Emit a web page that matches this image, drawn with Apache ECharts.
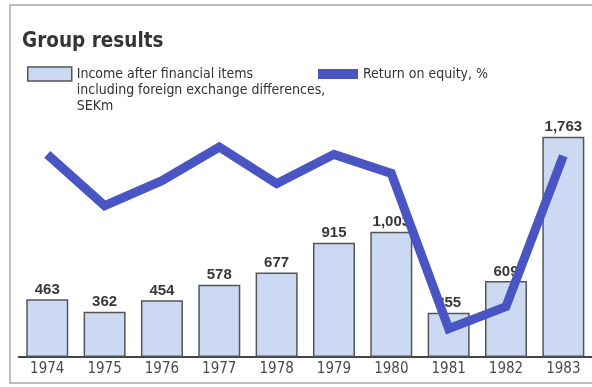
<!DOCTYPE html>
<html>
<head>
<meta charset="utf-8">
<script src="https://cdn.jsdelivr.net/npm/echarts@6/dist/echarts.min.js"></script>
<style>
  html, body { margin: 0; padding: 0; background: #ffffff; }
  #chart { width: 592px; height: 387px; }
</style>
</head>
<body>
<div id="chart"></div>
<script>
// Group results 1974-1983
const years = ['1974', '1975', '1976', '1977', '1978', '1979', '1980', '1981', '1982', '1983'];
// Income after financial items incl. foreign exchange differences, SEKm
const income = [463, 362, 454, 578, 677, 915, 1003, 355, 609, 1763];
// Return on equity, %
const roe = [16.6, 13.1, 14.8, 17.1, 14.6, 16.6, 15.3, 4.7, 6.2, 16.5];

const incomeName = 'Income after financial items\nincluding foreign exchange differences,\nSEKm';
const roeName = 'Return on equity, %';

// where each return-on-equity label sits relative to its point
const roeLabelPlacement = [
  { position: 'top', distance: 6, offset: [-5, 0] },
  { position: 'bottom', distance: 2, offset: [-17, 0] },
  { position: 'bottom', distance: 3, offset: [0, 0] },
  { position: 'top', distance: 3, offset: [-15, 0] },
  { position: 'bottom', distance: 4, offset: [-7, 0] },
  { position: 'top', distance: 3, offset: [0, 0] },
  { position: 'right', distance: 11, offset: [0, 0] },
  { position: 'bottom', distance: 11, offset: [1, 0] },
  { position: 'bottom', distance: 10, offset: [4, 0] },
  { position: 'top', distance: 0, offset: [1, 0] }
];

const COND = "'DejaVu Sans Condensed', 'Liberation Sans', sans-serif";
const NUM = "'Liberation Sans', Arial, sans-serif";
const TEXT = '#383838';
const BAR_FILL = '#cbdaf2';
const BAR_EDGE = '#555555';
const LINE_BLUE = '#4a55c4';

const chart = echarts.init(document.getElementById('chart'), null, { renderer: 'canvas' });

chart.setOption({
  animation: false,
  backgroundColor: '#ffffff',
  title: {
    text: 'Group results',
    left: 22,
    top: 31,
    padding: 0,
    textStyle: { fontFamily: COND, fontSize: 20.5, fontWeight: 'bold', color: '#353535' }
  },
  legend: [
    {
      data: [{ name: incomeName, icon: 'rect', itemStyle: { color: BAR_FILL, borderColor: BAR_EDGE, borderWidth: 1.5 } }],
      left: 27,
      top: 34,
      padding: 0,
      itemWidth: 44,
      itemHeight: 14,
      itemGap: 0,
      selectedMode: false,
      // two blank lines above keep the first text line level with the swatch
      formatter: name => '\n\n' + name,
      textStyle: { fontFamily: COND, fontSize: 14, color: '#333333', lineHeight: 16 }
    },
    {
      data: [{ name: roeName, icon: 'rect', itemStyle: { color: LINE_BLUE, borderWidth: 0, borderColor: 'transparent' } }],
      left: 318,
      top: 66,
      padding: 0,
      itemWidth: 40,
      itemHeight: 10,
      itemGap: 0,
      selectedMode: false,
      itemStyle: { borderWidth: 0 },
      lineStyle: { width: 0 },
      textStyle: { fontFamily: COND, fontSize: 14, color: '#333333', lineHeight: 16 }
    }
  ],
  graphic: [
    {
      type: 'rect',
      silent: true,
      shape: { x: 10, y: 5, width: 620, height: 378 },
      style: { fill: 'none', stroke: '#a8a8a8', lineWidth: 1.5 }
    }
  ],
  grid: { left: 18.6, top: 57, width: 578.3, height: 300, containLabel: false },
  xAxis: {
    type: 'category',
    data: years,
    boundaryGap: true,
    axisLine: { show: true, lineStyle: { color: '#444444', width: 2 } },
    axisTick: { show: false },
    axisLabel: { fontFamily: COND, fontSize: 15, color: '#4a4a4a', margin: 5 },
    splitLine: { show: false }
  },
  yAxis: [
    { type: 'value', min: 0, max: 2400, show: false, splitLine: { show: false } },
    { type: 'value', min: 2.76, max: 23.25, show: false, splitLine: { show: false } }
  ],
  series: [
    {
      name: incomeName,
      type: 'bar',
      yAxisIndex: 0,
      data: income,
      barWidth: 42,
      z: 2,
      itemStyle: { color: BAR_FILL, borderColor: BAR_EDGE, borderWidth: 1.5 },
      label: {
        show: true,
        position: 'top',
        distance: 2,
        fontFamily: NUM,
        fontSize: 15,
        fontWeight: 'bold',
        color: TEXT,
        formatter: p => p.value.toLocaleString('en-US')
      }
    },
    {
      name: roeName,
      type: 'line',
      yAxisIndex: 1,
      z: 3,
      symbol: 'none',
      clip: false,
      data: roe.map((v, i) => ({ value: v, label: roeLabelPlacement[i] })),
      lineStyle: { color: LINE_BLUE, width: 9, join: 'miter', cap: 'butt' },
      itemStyle: { color: LINE_BLUE },
      label: {
        show: true,
        fontFamily: NUM,
        fontSize: 15,
        fontWeight: 'bold',
        color: TEXT,
        formatter: p => p.value.toFixed(1)
      }
    }
  ]
});
</script>
</body>
</html>
